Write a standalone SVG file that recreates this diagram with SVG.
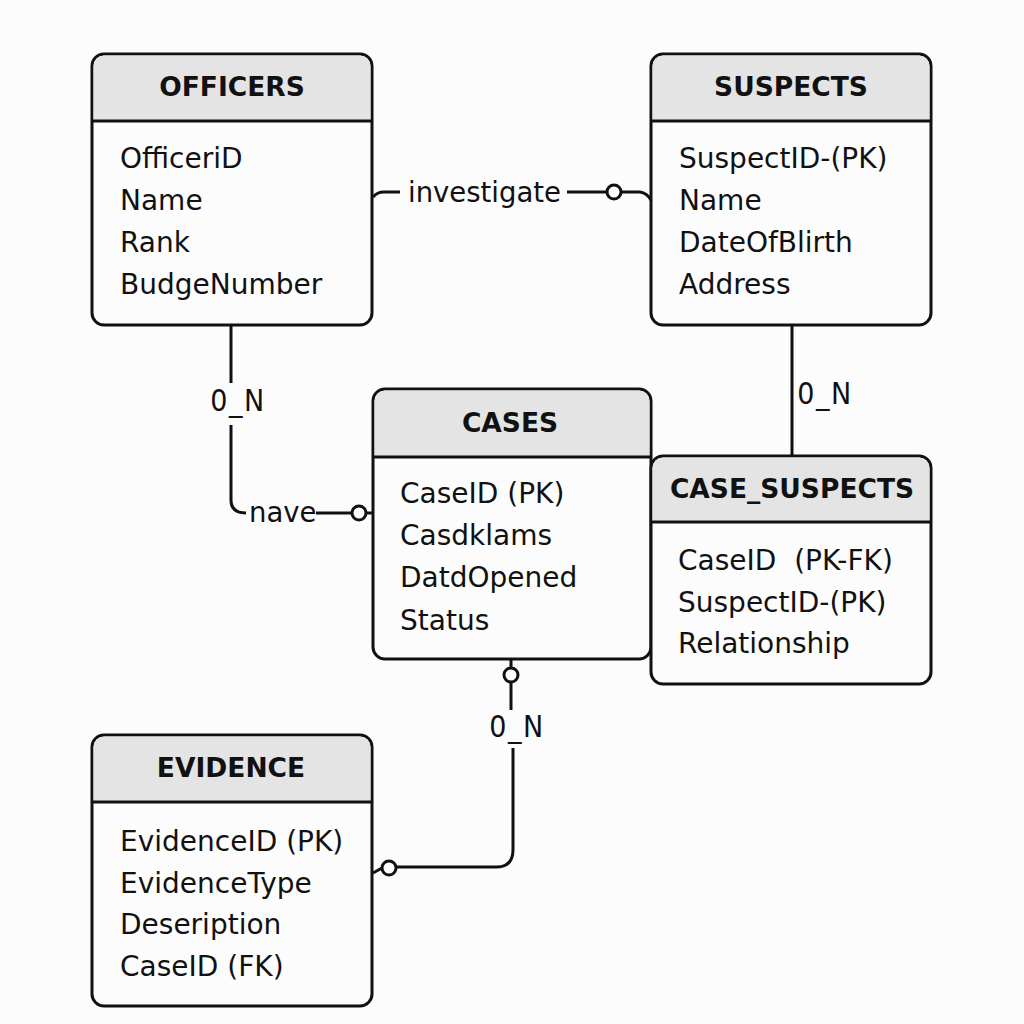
<svg xmlns="http://www.w3.org/2000/svg" width="1024" height="1024" viewBox="0 0 1024 1024">
<style>
.box{fill:#fcfcfc;stroke:#111;stroke-width:3}
.hdr{fill:#e4e4e4}
.sep{stroke:#111;stroke-width:3}
.title{font-family:"DejaVu Sans",sans-serif;font-weight:bold;font-size:26.5px;fill:#111;text-anchor:middle}
.fld{font-family:"DejaVu Sans",sans-serif;font-size:28px;fill:#111;white-space:pre}
.lbl{font-family:"DejaVu Sans",sans-serif;font-size:27.5px;fill:#111}
.card{font-family:"DejaVu Sans Condensed","DejaVu Sans",sans-serif;font-size:30px;letter-spacing:1.5px;fill:#111;text-anchor:middle}
.ln{fill:none;stroke:#111;stroke-width:3}
.circ{fill:#fff;stroke:#111;stroke-width:3}
</style>
<rect width="1024" height="1024" fill="#fcfcfc"/>
<g id="connectors">
  <path class="ln" d="M373,197 Q377,192 384,192 L400,192"/>
  <text class="lbl" x="408" y="202">investigate</text>
  <path class="ln" d="M567,192 L606,192 M622,192 L640,192 Q647,193 651,200"/>
  <circle class="circ" cx="614" cy="192" r="7"/>
  <path class="ln" d="M231,325 L231,383 M231,425 L231,500 Q231,513 246,513"/>
  <text class="card" x="238" y="411">0_N</text>
  <text class="lbl" x="249" y="522">nave</text>
  <path class="ln" d="M316,513 L352,513 M366,513 L373,513"/>
  <circle class="circ" cx="359" cy="513" r="7"/>
  <path class="ln" d="M792,325 L792,456"/>
  <text class="card" x="825" y="404">0_N</text>
  <path class="ln" d="M511,659 L511,668 M511,682 L511,710 M513,748 L513,850 Q513,867 496,867 L396,867"/>
  <circle class="circ" cx="511" cy="675" r="7"/>
  <text class="card" x="517" y="737">0_N</text>
  <path class="ln" d="M382,868 L373,873"/>
  <circle class="circ" cx="389" cy="868" r="7"/>
</g>
<g id="officers">
  <rect class="box" x="92" y="54" width="280" height="271" rx="12"/>
  <path class="hdr" d="M104,55.5 H360 A10.5,10.5 0 0 1 370.5,66 V121 H93.5 V66 A10.5,10.5 0 0 1 104,55.5 Z"/>
  <line class="sep" x1="92" y1="121" x2="372" y2="121"/>
  <text class="title" x="232" y="96">OFFICERS</text>
  <text class="fld" x="120" y="168">OfficeriD</text>
  <text class="fld" x="120" y="210">Name</text>
  <text class="fld" x="120" y="252">Rank</text>
  <text class="fld" x="120" y="294">BudgeNumber</text>
</g>
<g id="suspects">
  <rect class="box" x="651" y="54" width="280" height="271" rx="12"/>
  <path class="hdr" d="M663,55.5 H919 A10.5,10.5 0 0 1 929.5,66 V121 H652.5 V66 A10.5,10.5 0 0 1 663,55.5 Z"/>
  <line class="sep" x1="651" y1="121" x2="931" y2="121"/>
  <text class="title" x="791" y="96">SUSPECTS</text>
  <text class="fld" x="679" y="168">SuspectID-(PK)</text>
  <text class="fld" x="679" y="210">Name</text>
  <text class="fld" x="679" y="252">DateOfBlirth</text>
  <text class="fld" x="679" y="294">Address</text>
</g>
<g id="cases">
  <rect class="box" x="373" y="389" width="278" height="270" rx="12"/>
  <path class="hdr" d="M385,390.5 H639 A10.5,10.5 0 0 1 649.5,401 V457 H374.5 V401 A10.5,10.5 0 0 1 385,390.5 Z"/>
  <line class="sep" x1="373" y1="457" x2="651" y2="457"/>
  <text class="title" x="510" y="432">CASES</text>
  <text class="fld" x="400" y="503">CaseID (PK)</text>
  <text class="fld" x="400" y="545">Casdklams</text>
  <text class="fld" x="400" y="587">DatdOpened</text>
  <text class="fld" x="400" y="630">Status</text>
</g>
<g id="case_suspects">
  <rect class="box" x="651" y="456" width="280" height="228" rx="12"/>
  <path class="hdr" d="M663,457.5 H919 A10.5,10.5 0 0 1 929.5,468 V522 H652.5 V468 A10.5,10.5 0 0 1 663,457.5 Z"/>
  <line class="sep" x1="651" y1="522" x2="931" y2="522"/>
  <text class="title" x="792" y="498">CASE_SUSPECTS</text>
  <text class="fld" x="678" y="570">CaseID  (PK-FK)</text>
  <text class="fld" x="678" y="612">SuspectID-(PK)</text>
  <text class="fld" x="678" y="653">Relationship</text>
</g>
<g id="evidence">
  <rect class="box" x="92" y="735" width="280" height="271" rx="12"/>
  <path class="hdr" d="M104,736.5 H360 A10.5,10.5 0 0 1 370.5,747 V802 H93.5 V747 A10.5,10.5 0 0 1 104,736.5 Z"/>
  <line class="sep" x1="92" y1="802" x2="372" y2="802"/>
  <text class="title" x="231" y="777">EVIDENCE</text>
  <text class="fld" x="120" y="851">EvidenceID (PK)</text>
  <text class="fld" x="120" y="893">EvidenceType</text>
  <text class="fld" x="120" y="934">Deseription</text>
  <text class="fld" x="120" y="976">CaseID (FK)</text>
</g>
</svg>
